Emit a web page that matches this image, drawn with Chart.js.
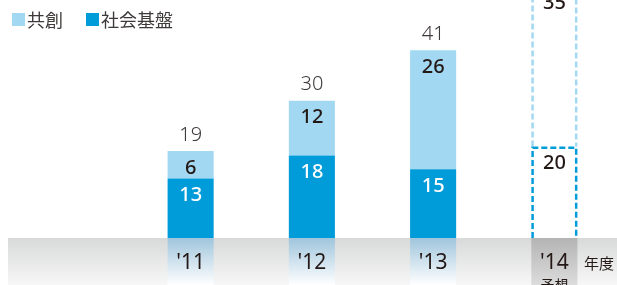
<!DOCTYPE html>
<html>
<head>
<meta charset="utf-8">
<script src="https://cdn.jsdelivr.net/npm/chart.js@4/dist/chart.umd.min.js"></script>
<style>
  body { margin: 0; background: #fff; }
  #wrap { width: 617px; height: 285px; position: relative; }
</style>
</head>
<body>
<div id="wrap"><canvas id="chart"></canvas></div>
<script>
// データ
const years = ["'11", "'12", "'13", "'14"];
const kiban = [13, 18, 15, 20];     // 社会基盤
const kyoso = [6, 12, 26, 35];      // 共創
const totals = [19, 30, 41, 55];
const forecastIndex = 3;            // '14 = 予想
const unitLabel = '年度';
const forecastLabel = '予想';

const DARK = '#009bd9';
const LIGHT = '#a2d8f2';
const TEXT = '#231815';
const FONT = "'Noto Sans', 'Noto Sans CJK JP', sans-serif";
const JFONT = "'Noto Sans CJK JP', sans-serif";

function barColors(color) {
    return years.map((y, i) => i === forecastIndex ? 'rgba(0,0,0,0)' : color);
}

// 背景の帯と列のグラデーション（軸ラベルより先に描く）
const bandPlugin = {
    id: 'band',
    beforeDraw(chart) {
        const ctx = chart.ctx;
        const area = chart.chartArea;
        const top = area.bottom;
        const bottom = chart.height;
        ctx.save();
        let g = ctx.createLinearGradient(0, top, 0, bottom);
        g.addColorStop(0, '#d8d9d9');
        g.addColorStop(1, '#f7f7f7');
        ctx.fillStyle = g;
        ctx.fillRect(8, top, chart.width - 8, bottom - top);

        const meta = chart.getDatasetMeta(0);
        meta.data.forEach((bar, i) => {
            const left = bar.x - bar.width / 2;
            const cg = ctx.createLinearGradient(0, top, 0, bottom);
            if (i === forecastIndex) {
                cg.addColorStop(0, '#b4b4b4');
                cg.addColorStop(1, '#dcdcdc');
            } else {
                cg.addColorStop(0, '#9fc5dc');
                cg.addColorStop(1, '#ffffff');
            }
            ctx.fillStyle = cg;
            ctx.fillRect(left, top, bar.width, bottom - top);
        });
        ctx.restore();
    }
};

// 値ラベル・予想の点線・凡例
const labelPlugin = {
    id: 'labels',
    afterDatasetsDraw(chart) {
        const ctx = chart.ctx;
        const m0 = chart.getDatasetMeta(0);
        const m1 = chart.getDatasetMeta(1);
        ctx.save();

        // 予想の点線枠
        const b0 = m0.data[forecastIndex];
        const b1 = m1.data[forecastIndex];
        const lw = 2.5;
        const l = b0.x - b0.width / 2 + lw / 2;
        const r = b0.x + b0.width / 2 - lw / 2;
        ctx.lineWidth = lw;
        ctx.setLineDash([6, 3]);
        ctx.strokeStyle = LIGHT;
        ctx.beginPath();
        ctx.moveTo(l, b0.y);
        ctx.lineTo(l, b1.y);
        ctx.lineTo(r, b1.y);
        ctx.lineTo(r, b0.y);
        ctx.stroke();
        ctx.strokeStyle = DARK;
        ctx.beginPath();
        ctx.moveTo(l, b0.base);
        ctx.lineTo(l, b0.y + lw / 2);
        ctx.lineTo(r, b0.y + lw / 2);
        ctx.lineTo(r, b0.base);
        ctx.stroke();
        ctx.setLineDash([]);

        ctx.textAlign = 'center';
        ctx.textBaseline = 'middle';
        years.forEach((y, i) => {
            const a = m0.data[i];
            const b = m1.data[i];
            ctx.font = '500 20px ' + FONT;
            ctx.fillStyle = i === forecastIndex ? TEXT : '#ffffff';
            ctx.fillText(String(kiban[i]), a.x, a.y + 17);
            ctx.fillStyle = TEXT;
            ctx.fillText(String(kyoso[i]), b.x, b.y + 17);
            ctx.font = '300 20px ' + FONT;
            ctx.fillStyle = '#3e3a39';
            ctx.fillText(String(totals[i]), b.x, b.y - 16);
        });

        // 予想・年度
        const xs = chart.scales.x;
        ctx.fillStyle = TEXT;
        ctx.font = '14px ' + JFONT;
        ctx.fillText(forecastLabel, xs.getPixelForValue(forecastIndex), 285);
        ctx.font = '15px ' + JFONT;
        ctx.textAlign = 'left';
        ctx.fillText(unitLabel, 584, 263);

        // 凡例
        const items = [
            { text: chart.data.datasets[1].label, color: LIGHT, x: 12 },
            { text: chart.data.datasets[0].label, color: DARK, x: 86 }
        ];
        ctx.font = '18px ' + JFONT;
        items.forEach(it => {
            ctx.fillStyle = it.color;
            ctx.fillRect(it.x, 13, 13, 13);
            ctx.fillStyle = '#3e3a39';
            ctx.fillText(it.text, it.x + 15, 20);
        });
        ctx.restore();
    }
};

new Chart(document.getElementById('chart'), {
    type: 'bar',
    data: {
        labels: years,
        datasets: [
            { label: '社会基盤', data: kiban, backgroundColor: barColors(DARK) },
            { label: '共創', data: kyoso, backgroundColor: barColors(LIGHT) }
        ]
    },
    options: {
        responsive: true,
        maintainAspectRatio: false,
        animation: false,
        layout: { padding: { left: 130, right: 2, top: 0, bottom: 0 } },
        datasets: { bar: { barPercentage: 0.38, categoryPercentage: 1 } },
        plugins: {
            legend: { display: false },
            tooltip: { enabled: false }
        },
        scales: {
            x: {
                stacked: true,
                grid: { display: false, drawTicks: false },
                border: { display: false },
                ticks: { color: TEXT, font: { family: FONT, size: 21 }, padding: 12 },
                afterFit(scale) { scale.height = 47; }
            },
            y: {
                stacked: true,
                display: false,
                min: 0,
                max: 52
            }
        }
    },
    plugins: [bandPlugin, labelPlugin]
});
</script>
</body>
</html>
